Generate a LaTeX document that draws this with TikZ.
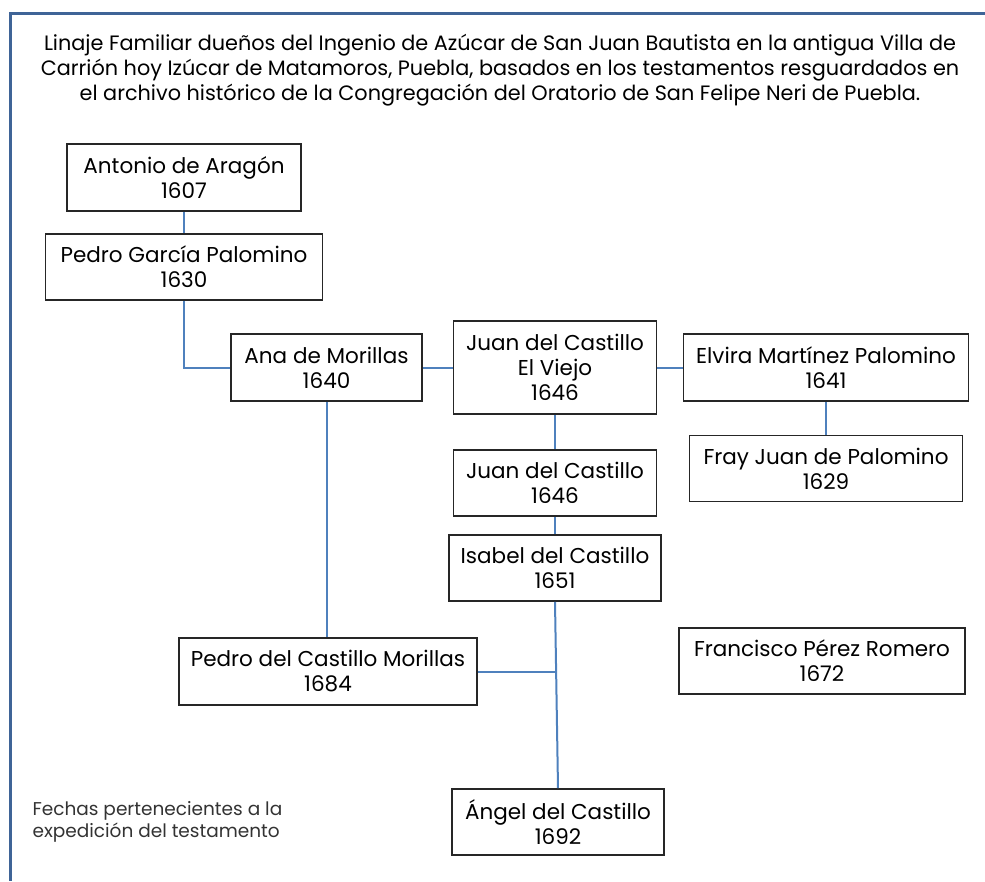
\documentclass[tikz,border=0pt]{standalone}
\usepackage{fontspec}
\setmainfont{Poppins}
\definecolor{lineblue}{HTML}{4F81BD}
\definecolor{framecol}{HTML}{3F6497}
\tikzset{
  persona/.style={draw=black!85,line width=1.6pt,align=center,inner sep=0pt,
    font=\fontsize{21.5}{25}\selectfont},
  enlace/.style={draw=lineblue,line width=2pt},
}
\begin{document}
\begin{tikzpicture}[x=1pt,y=-1pt]
            \useasboundingbox (0,0) rectangle (985,881);
            \draw[framecol,line width=3pt] (985,13) -- (10,13) -- (10,881);
            \node[align=center,font=\fontsize{20.8}{25}\selectfont] (titulo) at (500,70)
                {Linaje Familiar due\~nos del Ingenio de Az\'ucar de San Juan Bautista en la antigua Villa de\\
                 Carri\'on hoy Iz\'ucar de Matamoros, Puebla, basados en los testamentos resguardados en\\
                 el archivo hist\'orico de la Congregaci\'on del Oratorio de San Felipe Neri de Puebla.};
            \node[persona,minimum width=234pt,minimum height=67pt] (antonio) at (184,177.5) {Antonio de Arag\'on\\1607};
            \node[persona,minimum width=277pt,minimum height=66pt] (pedrog) at (184,267) {Pedro Garc\'ia Palomino\\1630}
                edge [enlace] (antonio)
            ;
            \node[persona,minimum width=191pt,minimum height=67pt] (ana) at (326.5,367.5) {Ana de Morillas\\1640};
            \node[persona,minimum width=203pt,minimum height=93pt] (juanv) at (555,367.5) {Juan del Castillo\\El Viejo\\1646}
                edge [enlace] (ana)
            ;
            \node[persona,minimum width=285pt,minimum height=67pt] (elvira) at (826,367.5) {Elvira Mart\'inez Palomino\\1641}
                edge [enlace] (juanv)
            ;
            \node[persona,minimum width=273pt,minimum height=66pt] (fray) at (826,468.5) {Fray Juan de Palomino\\1629}
                edge [enlace] (elvira)
            ;
            \node[persona,minimum width=203pt,minimum height=66pt] (juanc) at (555,483) {Juan del Castillo\\1646}
                edge [enlace] (juanv)
            ;
            \node[persona,minimum width=212pt,minimum height=66pt] (isabel) at (555,568) {Isabel del Castillo\\1651}
                edge [enlace] (juanc)
            ;
            \node[persona,minimum width=298pt,minimum height=67pt] (pedroc) at (328,671.5) {Pedro del Castillo Morillas\\1684};
            \node[persona,minimum width=286pt,minimum height=66pt] (francisco) at (822,661) {Francisco P\'erez Romero\\1672};
            \node[persona,minimum width=212pt,minimum height=66pt] (angel) at (558,822) {\'Angel del Castillo\\1692};
            \node[anchor=west,align=left,text=black!80,font=\fontsize{18.5}{22}\selectfont] (nota) at (29,822)
                {Fechas pertenecientes a la\\expedici\'on del testamento};
            % conectores en angulo
            \draw[enlace] (pedrog.south) |- (ana.west);
            \draw[enlace] (ana.south) -- (ana.south |- pedroc.north);
            \draw[enlace] (isabel.south) -- (angel.north);
            \draw[enlace] (pedroc.east) -- (pedroc.east -| isabel.south);
        \end{tikzpicture}
\end{document}
